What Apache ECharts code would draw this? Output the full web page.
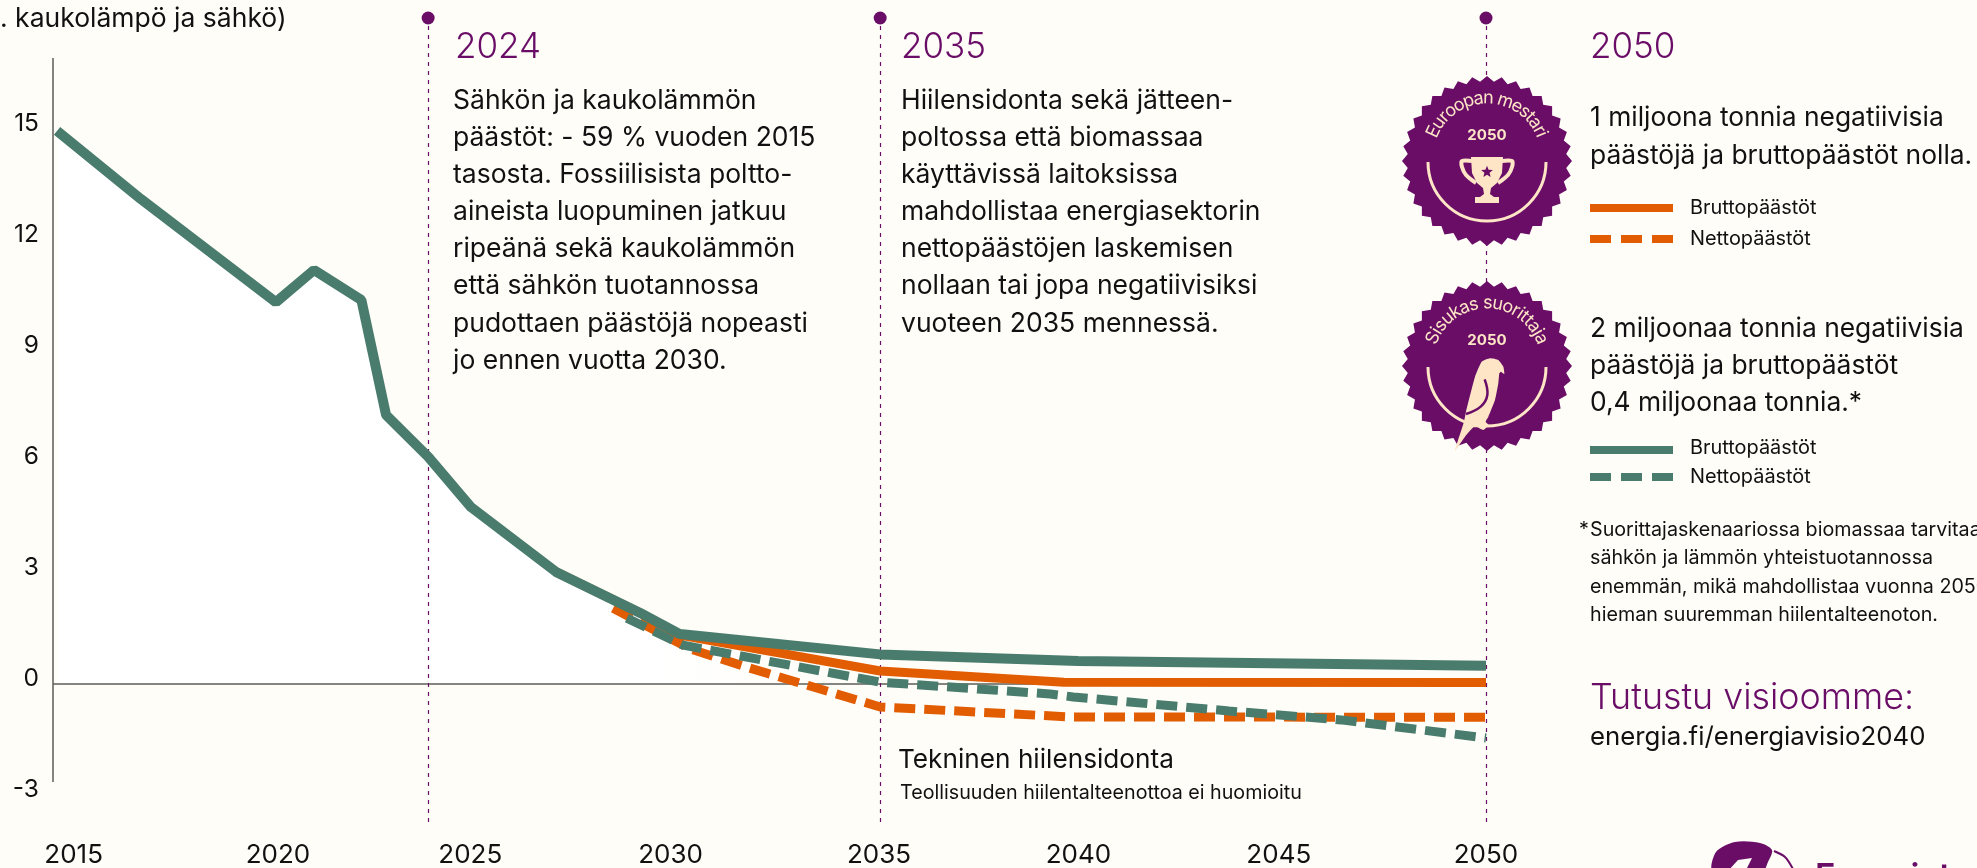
<!DOCTYPE html>
<html>
<head>
<meta charset="utf-8">
<style>
  html, body { margin: 0; padding: 0; background: #fefdf8; overflow: hidden; }
  #chart { width: 1977px; height: 868px; }
</style>
<script src="https://cdn.jsdelivr.net/npm/echarts@6/dist/echarts.min.js"></script>
</head>
<body>
<div id="chart"></div>
<script>
// axis ticks
var yTicks = [-3, 0, 3, 6, 9, 12, 15];
// tick labels sit a little above their true height in the source
var yLabelLift = 0.135;
var xTickLabels = ['2015', '2020', '2025', '2030', '2035', '2040', '2045', '2050'];
// label positions in the source are not quite evenly spaced
var xTickPos = [2015.1, 2020.15, 2024.9, 2029.85, 2035, 2039.93, 2044.88, 2050];

// green gross line, also carries the shared history
var greenGrossYears = [2014.69, 2016.77, 2020.1, 2021.04, 2022.21, 2022.82, 2023.86, 2024.92, 2027.02, 2029.1, 2030.08, 2035.03, 2039.92, 2050];
var greenGrossValues = [14.95, 13.1, 10.32, 11.19, 10.38, 7.27, 6.14, 4.78, 3.03, 1.92, 1.35, 0.8, 0.62, 0.49];
var greenNetYears = [2028.77, 2030.16, 2035.03, 2039.23, 2039.8, 2043.65, 2046.42, 2050];
var greenNetValues = [1.78, 1.05, 0.05, -0.27, -0.35, -0.73, -0.97, -1.46];
var orangeGrossYears = [2027.02, 2029.1, 2030.08, 2035.03, 2039.57, 2050];
var orangeGrossValues = [3.03, 1.92, 1.32, 0.35, 0.05, 0.04];
var orangeNetYears = [2028.43, 2030.33, 2031.81, 2035.03, 2039.7, 2050];
var orangeNetValues = [2.05, 0.95, 0.43, -0.62, -0.89, -0.9];

var milestones = [2023.86, 2035.03, 2050];

var text2024 = ['Sähkön ja kaukolämmön', 'päästöt: - 59 % vuoden 2015', 'tasosta. Fossiilisista poltto-', 'aineista luopuminen jatkuu', 'ripeänä sekä kaukolämmön', 'että sähkön tuotannossa', 'pudottaen päästöjä nopeasti', 'jo ennen vuotta 2030.'];
var text2035 = ['Hiilensidonta sekä jätteen-', 'poltossa että biomassaa', 'käyttävissä laitoksissa', 'mahdollistaa energiasektorin', 'nettopäästöjen laskemisen', 'nollaan tai jopa negatiivisiksi', 'vuoteen 2035 mennessä.'];
var text2050a = ['1 miljoona tonnia negatiivisia', 'päästöjä ja bruttopäästöt nolla.'];
var text2050b = ['2 miljoonaa tonnia negatiivisia', 'päästöjä ja bruttopäästöt', '0,4 miljoonaa tonnia.*'];
var footnote = ['Suorittajaskenaariossa biomassaa tarvitaan', 'sähkön ja lämmön yhteistuotannossa', 'enemmän, mikä mahdollistaa vuonna 2050', 'hieman suuremman hiilentalteenoton.'];

var GREEN = '#4a7c6d', ORANGE = '#e25c02', PURPLE = '#6a0d67', PEACH = '#fde5c6', INK = '#111111', PAGE = '#fefdf8';
var FONT = 'Inter';
var xMin = 2014.59, xMax = 2050;

function pairs(xs, ys) {
  return xs.map(function (x, i) { return [x, ys[i]]; });
}

function label(x, y, text, size, color, extra) {
  var style = { x: x, y: y, text: text, font: (extra && extra.weight || 400) + ' ' + size + 'px ' + FONT, fill: color || INK, textVerticalAlign: 'middle' };
  return { type: 'text', z: 20, style: style };
}

function para(x, y, lines, size, lineHeight) {
  // y is the middle of the first line
  return lines.map(function (t, i) {
    return label(x, y + i * lineHeight, t, size);
  });
}

function legendBar(x0, x1, y, color) {
  return { type: 'rect', z: 20, shape: { x: x0, y: y - 4, width: x1 - x0, height: 8 }, style: { fill: color } };
}

function legendRow(y, yText, color, dashed, name) {
  var out = [];
  if (dashed) {
    out.push(legendBar(1590, 1611, y, color), legendBar(1621, 1642, y, color), legendBar(1652, 1673, y, color));
  } else {
    out.push(legendBar(1590, 1673, y, color));
  }
  out.push(label(1690, yText, name, 19.9));
  return out;
}

var measure = document.createElement('canvas').getContext('2d');

// scalloped badge with the ribbon text bent around the top
function badge(cy, title, spread) {
  var cx = 1487, pts = [], n = 36, out = [];
  for (var i = 0; i < n * 2; i++) {
    var a = Math.PI * i / n - Math.PI / 2;
    var r = i % 2 ? 79.5 : 85;
    pts.push([cx + r * Math.cos(a), cy + r * Math.sin(a)]);
  }
  out.push({ type: 'polygon', z: 15, shape: { points: pts }, style: { fill: PURPLE } });

  var font = '400 18px ' + FONT;
  measure.font = font;
  var total = measure.measureText(title).width;
  var run = 0;
  title.split('').forEach(function (c) {
    var w = measure.measureText(c).width;
    var ang = ((run + w / 2) / total - 0.5) * spread;
    run += w;
    out.push({
      type: 'text', z: 20,
      x: cx + 59 * Math.sin(ang), y: cy - 4 - 59 * Math.cos(ang), rotation: -ang,
      style: { x: 0, y: 0, text: c, font: font, fill: PEACH, textAlign: 'center', textVerticalAlign: 'middle' }
    });
  });
  out.push({
    type: 'text', z: 20,
    style: { x: cx, y: cy - 26, text: '2050', font: '700 15px ' + FONT, fill: PEACH, textAlign: 'center', textVerticalAlign: 'middle' }
  });
  out.push({
    type: 'arc', z: 18,
    shape: { cx: cx, cy: cy + 1, r: 59, startAngle: 0, endAngle: Math.PI, clockwise: true },
    style: { stroke: PEACH, lineWidth: 3, fill: null }
  });
  return out;
}

function trophy(cx, top) {
  function shift(list) {
    return list.map(function (p) { return [cx + p[0], top + p[1]]; });
  }
  var star = [];
  for (var i = 0; i < 10; i++) {
    var a = Math.PI * i / 5 - Math.PI / 2;
    var r = i % 2 ? 2.7 : 6.2;
    star.push([r * Math.cos(a), 15 + r * Math.sin(a)]);
  }
  return [
    { type: 'polyline', z: 21, shape: { points: shift([[-14, 4], [-25, 4], [-25, 10], [-21, 18], [-11, 26]]), smooth: 0.3 }, style: { stroke: PEACH, lineWidth: 4, fill: null } },
    { type: 'polyline', z: 21, shape: { points: shift([[14, 4], [25, 4], [25, 10], [21, 18], [11, 26]]), smooth: 0.3 }, style: { stroke: PEACH, lineWidth: 4, fill: null } },
    { type: 'polygon', z: 21, shape: { points: shift([[-16, 0], [16, 0], [15, 16], [10, 26], [4, 31], [3, 37], [7, 40], [12, 40], [12, 46], [-12, 46], [-12, 40], [-7, 40], [-3, 37], [-4, 31], [-10, 26], [-15, 16]]) }, style: { fill: PEACH } },
    { type: 'polygon', z: 22, shape: { points: shift(star) }, style: { fill: PURPLE } }
  ];
}

function parrot() {
  function toPage(list) {
    return list.map(function (p) { return [1390 + p[0] / 3, 90 + p[1] / 3]; });
  }
  return [
    { type: 'polygon', z: 21, shape: { smooth: 0.15, points: toPage([[195, 1082], [222, 995], [228, 965], [255, 860], [275, 815], [300, 805], [325, 810], [340, 830], [343, 852], [333, 845], [328, 850], [325, 880], [315, 930], [295, 980], [287, 995], [296, 1005], [280, 1020], [262, 1012], [250, 1012], [225, 1040]]) }, style: { fill: PEACH } },
    { type: 'polyline', z: 22, shape: { smooth: 0.4, points: toPage([[284, 868], [292, 915], [272, 950], [228, 972]]) }, style: { stroke: PURPLE, lineWidth: 2.5, fill: null } }
  ];
}

var extras = [];
extras.push(label(0, 19, '. kaukolämpö ja sähkö)', 26.5));
extras.push(label(455, 47.5, '2024', 35, PURPLE, { weight: 300 }));
extras.push(label(901, 47.5, '2035', 35, PURPLE, { weight: 300 }));
extras.push(label(1590, 47.5, '2050', 35, PURPLE, { weight: 300 }));
extras = extras.concat(para(453, 101, text2024, 26.5, 37.1));
extras = extras.concat(para(901, 101, text2035, 26.5, 37.1));
extras = extras.concat(para(1590, 118, text2050a, 26.4, 38));
extras = extras.concat(para(1590, 329, text2050b, 26.4, 37.2));
extras = extras.concat(legendRow(208, 208, ORANGE, false, 'Bruttopäästöt'));
extras = extras.concat(legendRow(239, 239, ORANGE, true, 'Nettopäästöt'));
extras = extras.concat(legendRow(450, 448, GREEN, false, 'Bruttopäästöt'));
extras = extras.concat(legendRow(477, 477, GREEN, true, 'Nettopäästöt'));
extras.push(label(1579, 530, '*', 19.7));
extras = extras.concat(para(1590, 530, footnote, 19.7, 28.4));
extras.push(label(1590, 698, 'Tutustu visioomme:', 35.8, PURPLE, { weight: 300 }));
extras.push(label(1590, 737, 'energia.fi/energiavisio2040', 25.8));
extras.push(label(898, 760, 'Tekninen hiilensidonta', 26.2));
extras.push(label(900, 793, 'Teollisuuden hiilentalteenottoa ei huomioitu', 19.7));
extras = extras.concat(badge(161, 'Euroopan mestari', 2.44));
extras = extras.concat(trophy(1487, 157));
extras = extras.concat(badge(366, 'Sisukas suorittaja', 2.5));
extras = extras.concat(parrot());
// logo cut off by the bottom edge
extras.push({ type: 'polygon', z: 15, shape: { smooth: 0.3, points: [[1713, 872], [1716, 852], [1735, 842], [1760, 843], [1772, 850], [1768, 862], [1762, 872]] }, style: { fill: PURPLE } });
extras.push({ type: 'polygon', z: 16, shape: { points: [[1727, 872], [1738, 860], [1752, 858], [1745, 872]] }, style: { fill: PAGE } });
extras.push({ type: 'polyline', z: 16, shape: { smooth: 0.3, points: [[1774, 851], [1785, 857], [1793, 869]] }, style: { stroke: PURPLE, lineWidth: 2, fill: null } });
extras.push(label(1815, 878, 'Energiateollisuus', 34, PURPLE, { weight: 600 }));

var chart = echarts.init(document.getElementById('chart'));

chart.setOption({
  backgroundColor: PAGE,
  animation: false,
  textStyle: { fontFamily: FONT },
  grid: { left: 53, right: 491, top: 18, bottom: 36, containLabel: false },
  xAxis: {
    type: 'value', min: xMin, max: xMax,
    splitLine: { show: false }, axisLine: { show: false }, axisTick: { show: false },
    axisLabel: {
      customValues: xTickPos,
      hideOverlap: false, showMinLabel: true, showMaxLabel: true,
      margin: 10, fontSize: 26, color: INK, fontFamily: FONT,
      formatter: function (v) { return xTickLabels[xTickPos.indexOf(v)]; }
    }
  },
  yAxis: {
    type: 'value', min: -4, max: 18,
    splitLine: { show: false }, axisLine: { show: false }, axisTick: { show: false },
    axisLabel: {
      customValues: yTicks.map(function (v) { return v + yLabelLift; }),
      margin: 14, fontSize: 24.5, color: INK, fontFamily: FONT,
      formatter: function (v) { return String(Math.round(v)); }
    }
  },
  series: [
    {
      // white fill under the history, fades into the page colour
      name: 'tausta', type: 'line', data: pairs(greenGrossYears, greenGrossValues),
      symbol: 'none', lineStyle: { width: 0 }, z: 1, silent: true,
      areaStyle: {
        origin: 0, opacity: 1,
        color: new echarts.graphic.LinearGradient(0, 0, 1, 0, [
          { offset: 0, color: '#ffffff' },
          { offset: 0.42, color: '#ffffff' },
          { offset: 0.55, color: PAGE },
          { offset: 1, color: PAGE }
        ])
      }
    },
    {
      name: 'akselit', type: 'line', data: [], z: 2, silent: true,
      markLine: {
        silent: true, symbol: 'none', animation: false, label: { show: false },
        lineStyle: { color: '#5c5c58', width: 1.5, type: 'solid' },
        data: [
          [{ coord: [xMin, -2.65] }, { coord: [xMin, 16.92] }],
          [{ coord: [xMin, 0] }, { coord: [xMax, 0] }]
        ]
      }
    },
    {
      name: 'virstat', type: 'line', data: [], z: 3, silent: true,
      markLine: {
        silent: true, symbol: ['none', 'circle'], symbolSize: 13, animation: false, label: { show: false },
        lineStyle: { color: PURPLE, width: 1.2, type: [4, 5], opacity: 1 },
        data: milestones.map(function (m) { return [{ coord: [m, -3.73] }, { coord: [m, 18] }]; })
      }
    },
    { name: 'Nettopäästöt (mestari)', type: 'line', data: pairs(orangeNetYears, orangeNetValues), symbol: 'none', z: 5, lineStyle: { color: ORANGE, width: 9, type: [21, 9] } },
    { name: 'Nettopäästöt (suorittaja)', type: 'line', data: pairs(greenNetYears, greenNetValues), symbol: 'none', z: 6, lineStyle: { color: GREEN, width: 9, type: [21, 9] } },
    { name: 'Bruttopäästöt (mestari)', type: 'line', data: pairs(orangeGrossYears, orangeGrossValues), symbol: 'none', z: 7, lineStyle: { color: ORANGE, width: 9 } },
    { name: 'Bruttopäästöt (suorittaja)', type: 'line', data: pairs(greenGrossYears, greenGrossValues), symbol: 'none', z: 8, lineStyle: { color: GREEN, width: 10 } }
  ],
  graphic: extras
});
</script>
</body>
</html>
